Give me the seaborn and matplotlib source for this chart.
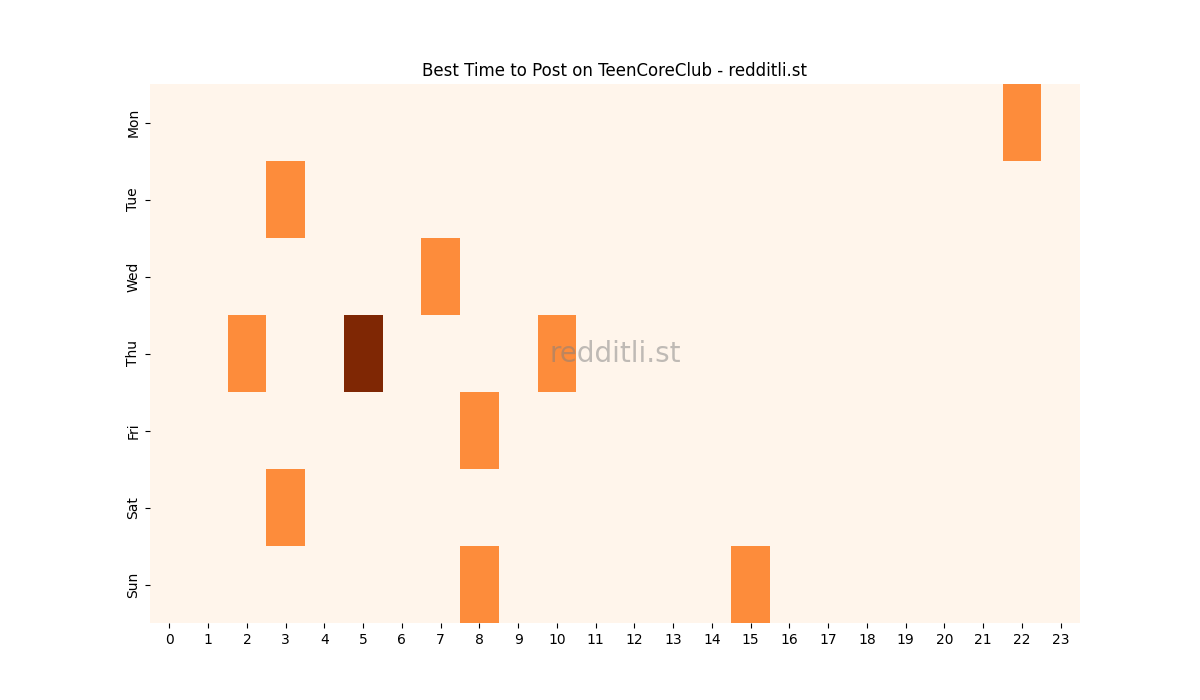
import matplotlib
matplotlib.use("Agg")
import matplotlib.pyplot as plt
import seaborn as sns
import numpy as np
import pandas as pd

days = ["Mon", "Tue", "Wed", "Thu", "Fri", "Sat", "Sun"]
hours = list(range(24))
# (day, hour, value) non-zero cells
cells_day = ["Mon", "Tue", "Wed", "Thu", "Thu", "Thu", "Fri", "Sat", "Sun", "Sun"]
cells_hour = [22, 3, 7, 2, 5, 10, 8, 3, 8, 15]
cells_value = [1, 1, 1, 1, 2, 1, 1, 1, 1, 1]

grid = pd.DataFrame(0, index=days, columns=hours)
for d, h, v in zip(cells_day, cells_hour, cells_value):
    grid.loc[d, h] = v

fig, ax = plt.subplots(figsize=(12, 7), dpi=100)
sns.heatmap(grid, cmap="Oranges", cbar=False, ax=ax)
ax.set_title("Best Time to Post on TeenCoreClub - redditli.st")
ax.text(0.5, 0.5, "redditli.st", transform=ax.transAxes, ha="center", va="center",
        fontsize=20, color="gray", alpha=0.5)
fig.savefig("out.png")
